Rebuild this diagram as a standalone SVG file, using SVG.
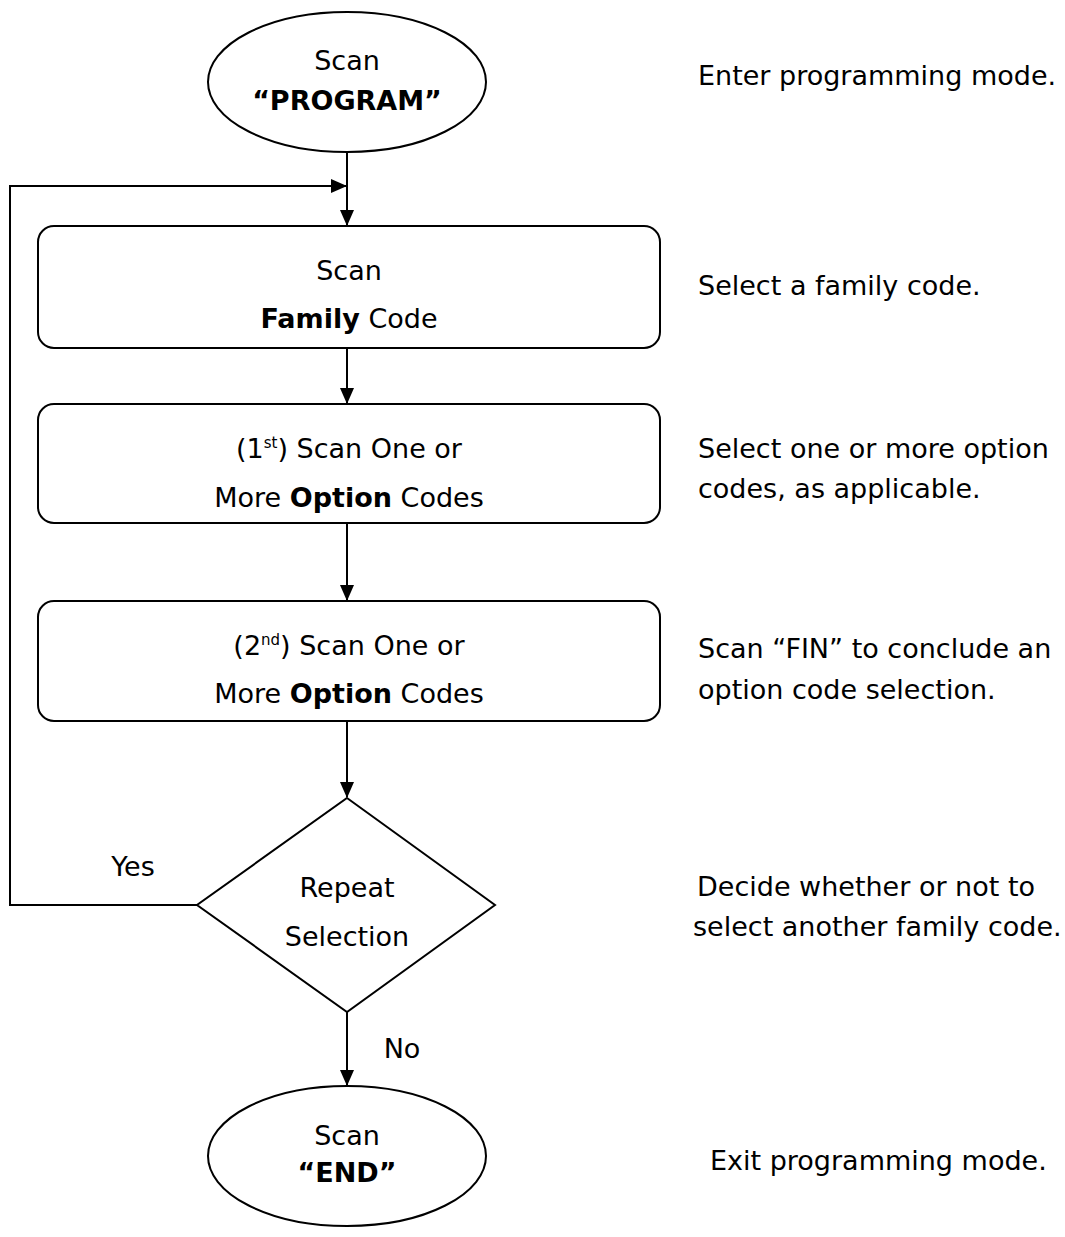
<svg xmlns="http://www.w3.org/2000/svg" width="1065" height="1237" viewBox="0 0 1065 1237">
<defs>
<style>
text{font-family:"DejaVu Sans","Liberation Sans",sans-serif;font-size:27px;fill:#000}
.c{text-anchor:middle}
.b{font-weight:bold}
.shape{fill:#fff;stroke:#000;stroke-width:2}
.conn{fill:none;stroke:#000;stroke-width:2}
.sup{font-size:15px}
</style>
<marker id="ah" viewBox="0 0 16 14" refX="15" refY="7" markerWidth="16" markerHeight="14" markerUnits="userSpaceOnUse" orient="auto">
<path d="M0,0 L16,7 L0,14 z" fill="#000"/>
</marker>
</defs>
<rect width="1065" height="1237" fill="#fff"/>
<g id="connectors">
<line class="conn" x1="347" y1="152" x2="347" y2="225" marker-end="url(#ah)"/>
<polyline class="conn" points="197,905 10,905 10,186 346,186" marker-end="url(#ah)"/>
<line class="conn" x1="347" y1="348" x2="347" y2="403" marker-end="url(#ah)"/>
<line class="conn" x1="347" y1="523" x2="347" y2="600" marker-end="url(#ah)"/>
<line class="conn" x1="347" y1="721" x2="347" y2="797" marker-end="url(#ah)"/>
<line class="conn" x1="347" y1="1012" x2="347" y2="1085" marker-end="url(#ah)"/>
<text x="133" y="876" class="c">Yes</text>
<text x="402" y="1058" class="c">No</text>
</g>
<g id="start">
<ellipse class="shape" cx="347" cy="82" rx="139" ry="70"/>
<text x="347" y="70" class="c">Scan</text>
<text x="347" y="110" class="c b">“PROGRAM”</text>
</g>
<g id="family">
<rect class="shape" x="38" y="226" width="622" height="122" rx="16"/>
<text x="349" y="280" class="c">Scan</text>
<text x="349" y="328" class="c"><tspan class="b">Family</tspan> Code</text>
</g>
<g id="option1">
<rect class="shape" x="38" y="404" width="622" height="119" rx="16"/>
<text x="349" y="458" class="c">(1<tspan class="sup" dy="-10">st</tspan><tspan dy="10">) Scan One or</tspan></text>
<text x="349" y="507" class="c">More <tspan class="b">Option</tspan> Codes</text>
</g>
<g id="option2">
<rect class="shape" x="38" y="601" width="622" height="120" rx="16"/>
<text x="349" y="655" class="c">(2<tspan class="sup" dy="-10">nd</tspan><tspan dy="10">) Scan One or</tspan></text>
<text x="349" y="703" class="c">More <tspan class="b">Option</tspan> Codes</text>
</g>
<g id="decision">
<polygon class="shape" points="347,798 495,905 347,1012 197,905"/>
<text x="347" y="897" class="c">Repeat</text>
<text x="347" y="946" class="c">Selection</text>
</g>
<g id="end">
<ellipse class="shape" cx="347" cy="1156" rx="139" ry="70"/>
<text x="347" y="1145" class="c">Scan</text>
<text x="347" y="1182" class="c b">“END”</text>
</g>
<g id="notes">
<text x="698" y="85">Enter programming mode.</text>
<text x="698" y="295">Select a family code.</text>
<text x="698" y="458">Select one or more option</text>
<text x="698" y="498">codes, as applicable.</text>
<text x="698" y="658">Scan “FIN” to conclude an</text>
<text x="698" y="699">option code selection.</text>
<text x="697" y="896">Decide whether or not to</text>
<text x="693" y="936">select another family code.</text>
<text x="710" y="1170">Exit programming mode.</text>
</g>
</svg>
